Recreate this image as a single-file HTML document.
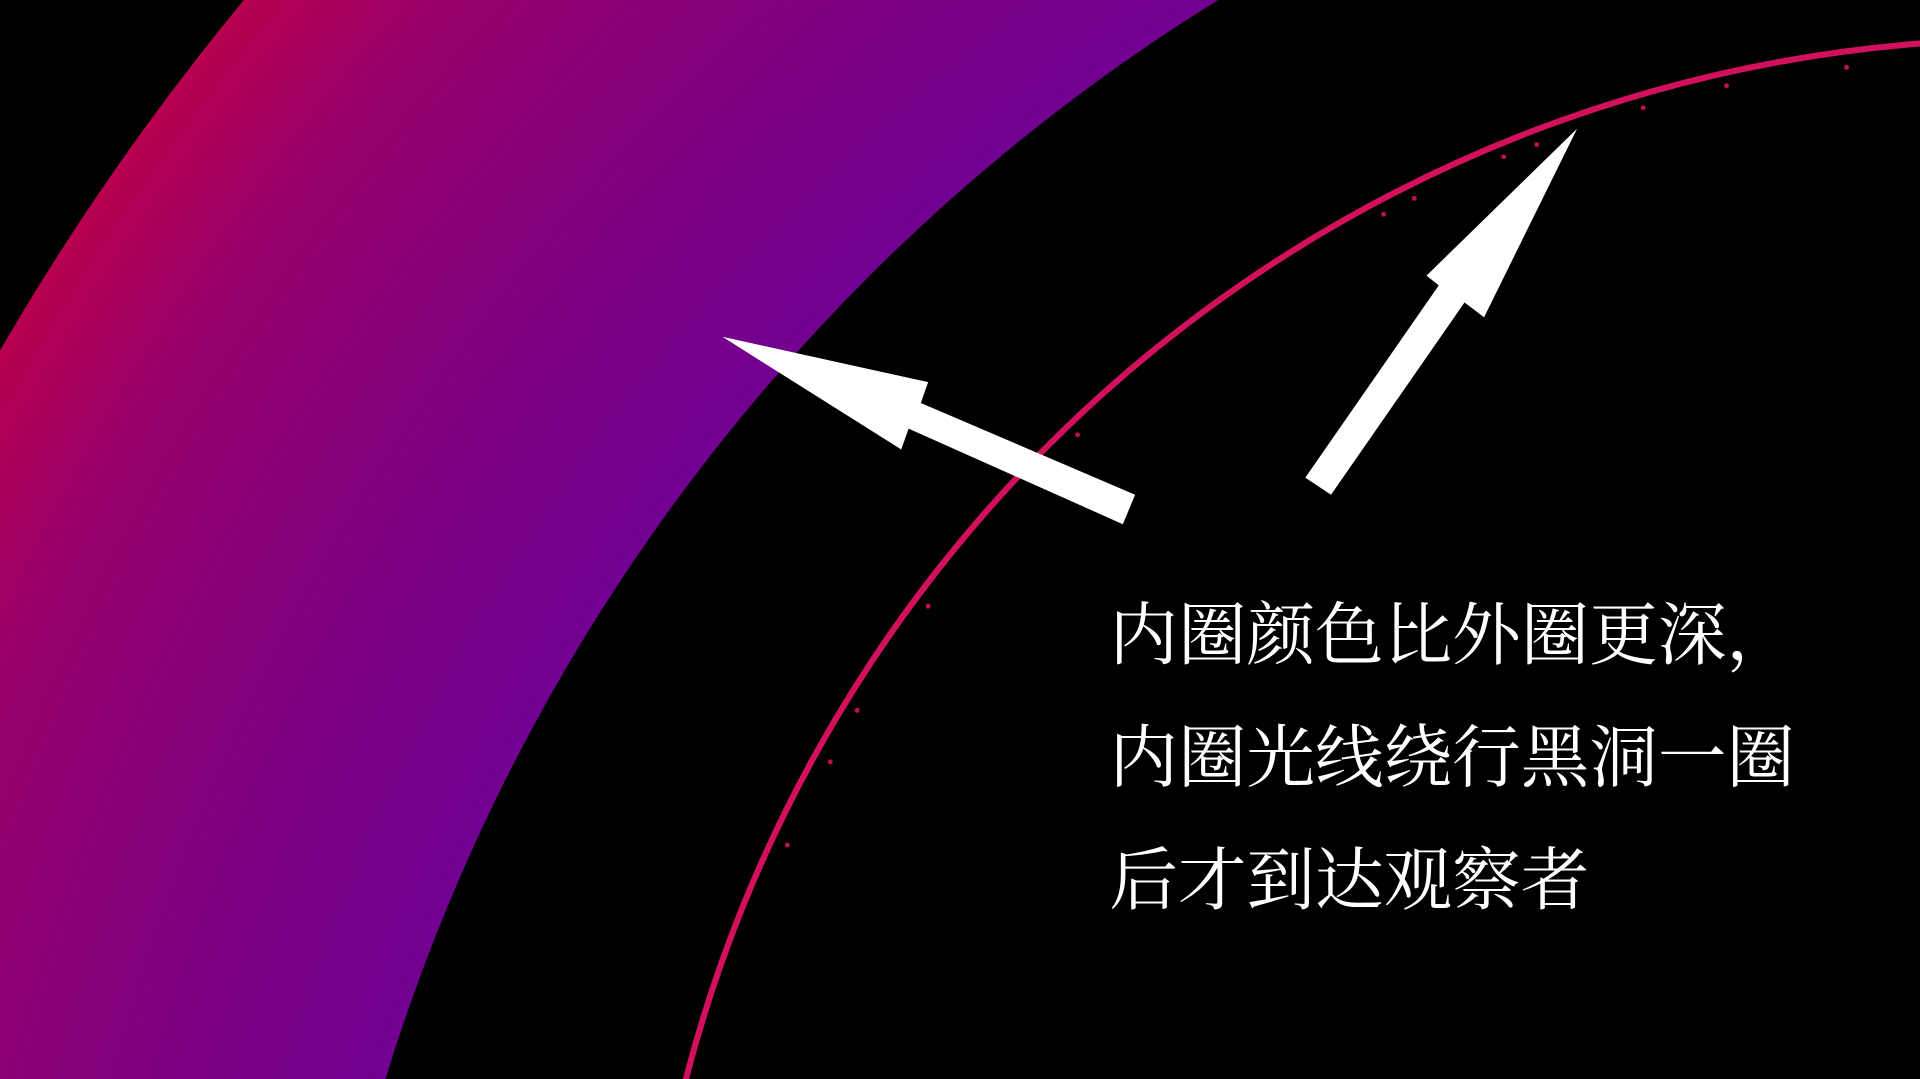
<!DOCTYPE html>
<html><head><meta charset="utf-8"><style>
html,body{margin:0;padding:0;background:#000;width:1920px;height:1079px;overflow:hidden}
svg{display:block;overflow:hidden}
</style></head><body>
<svg width="1920" height="1079" viewBox="0 0 1568 881" preserveAspectRatio="none" xmlns="http://www.w3.org/2000/svg">
<defs>
<radialGradient id="bandGrad" gradientUnits="userSpaceOnUse" cx="1828" cy="1346" r="2115">
<stop offset="0.75" stop-color="#720090"/>
<stop offset="0.84" stop-color="#7e007e"/>
<stop offset="0.94" stop-color="#98006a"/>
<stop offset="1" stop-color="#b8004e"/>
</radialGradient>
<clipPath id="frame"><rect x="0" y="0" width="1568" height="881"/></clipPath>
</defs>
<g clip-path="url(#frame)">
<rect x="0" y="0" width="1568" height="881" fill="#000"/>
<circle cx="1828" cy="1346" r="1848" fill="none" stroke="url(#bandGrad)" stroke-width="530"/>
<circle cx="1657" cy="1165" r="1133" fill="none" stroke="#d2105c" stroke-width="5"/>
<g fill="#c0104e">
<circle cx="1130" cy="175" r="2"/><circle cx="1155" cy="162" r="2"/><circle cx="1228" cy="128" r="2"/><circle cx="1255" cy="118" r="2"/><circle cx="1342" cy="88" r="2"/><circle cx="1410" cy="70" r="2"/><circle cx="1508" cy="55" r="2"/><circle cx="880" cy="355" r="2"/><circle cx="758" cy="495" r="2"/><circle cx="700" cy="580" r="2"/><circle cx="678" cy="622" r="2"/><circle cx="643" cy="690" r="2"/>
</g>
<polygon fill="#fff" points="590,275 758,312 752,329 927,404 917,428 742,350 736,367"/>
<polygon fill="#fff" points="1288,105 1212,259 1196,247 1087,404 1066,390 1175,233 1165,225"/>
<g fill="#fff" font-family="'Liberation Serif','Noto Serif CJK SC',serif" font-size="56">
<text x="906" y="538">内圈颜色比外圈更深，</text>
<text x="906" y="638">内圈光线绕行黑洞一圈</text>
<text x="906" y="738">后才到达观察者</text>
</g>
</g>
</svg>
</body></html>
